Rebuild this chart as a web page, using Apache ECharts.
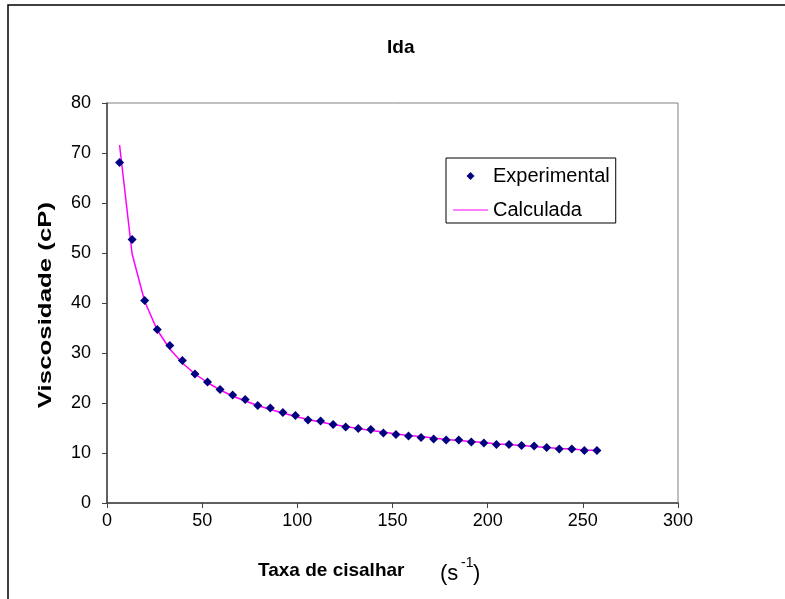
<!DOCTYPE html>
<html>
<head>
<meta charset="utf-8">
<script src="https://cdn.jsdelivr.net/npm/echarts@6/dist/echarts.min.js"></script>
<style>html,body{margin:0;padding:0;background:#fff}#c{width:785px;height:599px}</style>
</head>
<body>
<div id="c"></div>
<script>
var shearRate = [6.6, 13.2, 19.8, 26.4, 33.0, 39.6, 46.2, 52.8, 59.4, 66.0, 72.6, 79.2, 85.8, 92.4, 99.0, 105.6, 112.2, 118.8, 125.4, 132.0, 138.6, 145.2, 151.8, 158.4, 165.0, 171.6, 178.2, 184.8, 191.4, 198.0, 204.6, 211.2, 217.8, 224.4, 231.0, 237.6, 244.2, 250.8, 257.4];
var experimental = [68.1, 52.7, 40.5, 34.7, 31.5, 28.5, 25.8, 24.2, 22.7, 21.6, 20.7, 19.5, 19.0, 18.1, 17.5, 16.6, 16.4, 15.7, 15.2, 14.9, 14.7, 14.0, 13.7, 13.4, 13.1, 12.8, 12.6, 12.6, 12.2, 12.0, 11.7, 11.7, 11.5, 11.4, 11.1, 10.8, 10.8, 10.5, 10.5];
var calculated = [71.6, 49.8, 40.3, 34.6, 30.8, 28.0, 25.8, 24.1, 22.6, 21.4, 20.4, 19.5, 18.7, 18.0, 17.3, 16.7, 16.2, 15.7, 15.3, 14.9, 14.5, 14.2, 13.8, 13.5, 13.3, 13.0, 12.7, 12.5, 12.3, 12.1, 11.8, 11.7, 11.5, 11.3, 11.1, 10.9, 10.8, 10.6, 10.5];
var seriesNames = ['Experimental', 'Calculada'];
var titleText = 'Ida';
var yAxisTitle = 'Viscosidade (cP)';
var xAxisTitle = 'Taxa de cisalhar';
var xUnit = '(s';
var xUnitExp = '-1';

var chart = echarts.init(document.getElementById('c'), null, {renderer: 'canvas'});
var FONT = 'Liberation Sans, Arial, sans-serif';
chart.setOption({
  backgroundColor: '#fff',
  animation: false,
  title: {
    text: titleText, left: 382, top: 33,
    textStyle: {fontFamily: FONT, fontSize: 19, fontWeight: 'bold', color: '#000'}
  },
  graphic: [
    {type: 'rect', shape: {x: 8, y: 5, width: 800, height: 620}, style: {fill: 'none', stroke: '#000', lineWidth: 1.5}, silent: true, z: -1},
    {type: 'text', x: 258, y: 571, style: {
      text: xAxisTitle, font: 'bold 19px ' + FONT, fill: '#000', verticalAlign: 'middle', align: 'left'
    }},
    {type: 'text', x: 440, y: 574, style: {
      text: xUnit, font: '22px ' + FONT, fill: '#000', verticalAlign: 'middle', align: 'left'
    }},
    {type: 'text', x: 461, y: 563, style: {
      text: xUnitExp, font: '14px ' + FONT, fill: '#000', verticalAlign: 'middle', align: 'left'
    }},
    {type: 'text', x: 473, y: 574, style: {
      text: ')', font: '22px ' + FONT, fill: '#000', verticalAlign: 'middle', align: 'left'
    }},
    {type: 'text', x: 46, y: 305, rotation: Math.PI / 2, scaleX: 1.36, style: {
      text: yAxisTitle, font: 'bold 19px ' + FONT, fill: '#000', verticalAlign: 'middle', align: 'center'
    }}
  ],
  legend: {
    orient: 'vertical', left: 446, top: 158,
    padding: [8, 6, 3, 7],
    itemGap: 14,
    itemWidth: 35, itemHeight: 20,
    borderColor: '#000', borderWidth: 1,
    backgroundColor: '#fff',
    textStyle: {fontFamily: FONT, fontSize: 20, color: '#000'},
    data: [
      {name: seriesNames[0], icon: 'path://M0,0L0,0M35,20L35,20M17.5,6L21.5,10L17.5,14L13.5,10Z', itemStyle: {color: '#000080'}},
      {name: seriesNames[1], icon: 'path://M0,0L0,0M35,20L35,20M0,9.4L35,9.4L35,10.6L0,10.6Z', itemStyle: {color: '#FF00FF'}}
    ]
  },
  grid: {left: 107, right: 107, top: 103, bottom: 96, show: true, borderColor: '#808080', borderWidth: 1, backgroundColor: '#fff'},
  xAxis: {
    type: 'value', min: 0, max: 300, interval: 50,
    axisLine: {show: true, lineStyle: {color: '#404040', width: 1.5}},
    axisTick: {show: true, inside: false, length: 5, lineStyle: {color: '#404040'}},
    axisLabel: {fontFamily: FONT, fontSize: 18, color: '#000', margin: 9},
    splitLine: {show: false}
  },
  yAxis: {
    type: 'value', min: 0, max: 80, interval: 10,
    axisLine: {show: true, lineStyle: {color: '#404040', width: 1.5}},
    axisTick: {show: true, inside: false, length: 5, lineStyle: {color: '#404040'}},
    axisLabel: {fontFamily: FONT, fontSize: 18, color: '#000', margin: 16},
    splitLine: {show: false}
  },
  series: [
    {
      name: seriesNames[1], type: 'line', z: 2,
      data: shearRate.map(function (x, i) { return [x, calculated[i]]; }),
      showSymbol: false, symbol: 'none',
      lineStyle: {color: '#FF00FF', width: 1.5},
      itemStyle: {color: '#FF00FF'}
    },
    {
      name: seriesNames[0], type: 'scatter', z: 3,
      data: shearRate.map(function (x, i) { return [x, experimental[i]]; }),
      symbol: 'diamond', symbolSize: 9,
      itemStyle: {color: '#000080', opacity: 1}
    }
  ]
});
</script>
</body>
</html>
